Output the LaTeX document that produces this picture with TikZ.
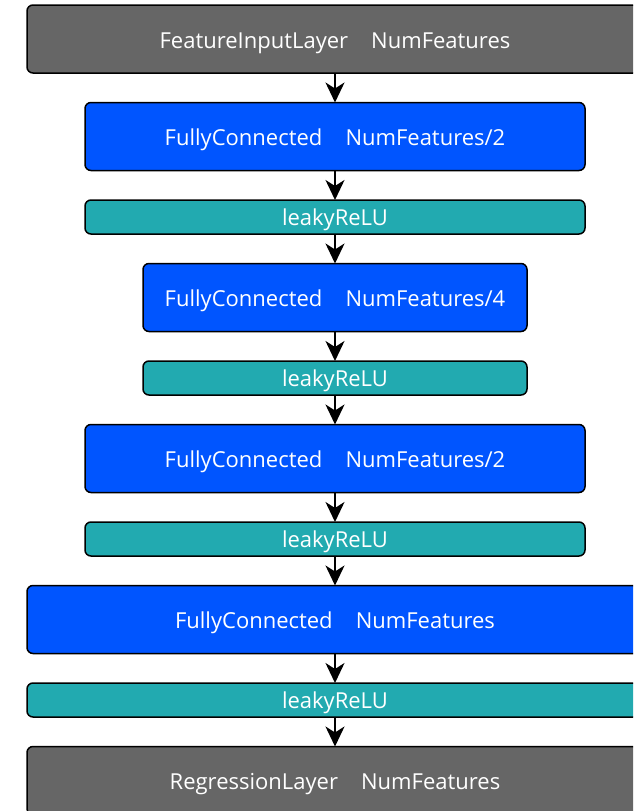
\documentclass[tikz,border=0pt]{standalone}
\usepackage{fontspec}
\setmainfont{Open Sans}
\usepackage{tikz}
\usetikzlibrary{arrows.meta, positioning}

\definecolor{iolayer}{RGB}{102,102,102}
\definecolor{fclayer}{RGB}{0,85,255}
\definecolor{actlayer}{RGB}{34,170,176}

\begin{document}
\begin{tikzpicture}[x=1pt, y=1pt, node distance=29.5pt]
	\tikzstyle{layer} = [rectangle, rounded corners=6pt, draw=black, line width=1.5pt, outer sep=0pt, minimum height=68pt, text height=18pt, text depth=0pt, text=white, text centered, font=\fontsize{22}{26}\selectfont]
	\tikzstyle{thin} = [layer, minimum height=34pt, inner sep=0pt, text height=16pt]
	\tikzstyle{arrow}  = [line width=2pt, -{Stealth[length=20pt, width=19pt, inset=6pt]}]

	\clip (0,0) rectangle (633,-811);

	\node[layer, fill=iolayer, minimum width=616pt] (input) at (335,-39) {FeatureInputLayer\hspace{1.05em}NumFeatures};

	\node[layer, fill=fclayer, minimum width=500pt, below=of input] (fc1) {FullyConnected\hspace{1.05em}NumFeatures/2};
	\draw[arrow] (input) to (fc1);

	\node[thin, fill=actlayer, minimum width=500pt, below=of fc1] (relu1) {leakyReLU};
	\draw[arrow] (fc1) to (relu1);

	\node[layer, fill=fclayer, minimum width=384pt, below=of relu1] (fc2) {FullyConnected\hspace{1.05em}NumFeatures/4};
	\draw[arrow] (relu1) to (fc2);

	\node[thin, fill=actlayer, minimum width=384pt, below=of fc2] (relu2) {leakyReLU};
	\draw[arrow] (fc2) to (relu2);

	\node[layer, fill=fclayer, minimum width=500pt, below=of relu2] (fc3) {FullyConnected\hspace{1.05em}NumFeatures/2};
	\draw[arrow] (relu2) to (fc3);

	\node[thin, fill=actlayer, minimum width=500pt, below=of fc3] (relu3) {leakyReLU};
	\draw[arrow] (fc3) to (relu3);

	\node[layer, fill=fclayer, minimum width=616pt, below=of relu3] (fc4) {FullyConnected\hspace{1.05em}NumFeatures};
	\draw[arrow] (relu3) to (fc4);

	\node[thin, fill=actlayer, minimum width=616pt, below=of fc4] (relu4) {leakyReLU};
	\draw[arrow] (fc4) to (relu4);

	\node[layer, fill=iolayer, minimum width=616pt, below=of relu4] (output) {RegressionLayer\hspace{1.05em}NumFeatures};
	\draw[arrow] (relu4) to (output);

\end{tikzpicture}
\end{document}
